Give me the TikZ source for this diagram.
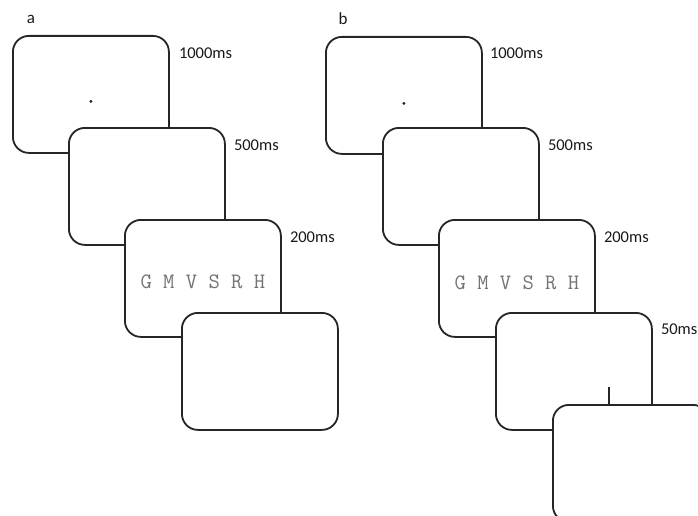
\documentclass[tikz,border=0pt]{standalone}
\usepackage{fontspec}
\setmainfont{Carlito}
\setmonofont{Latin Modern Mono}
\begin{document}
\begin{tikzpicture}[x=1pt,y=-1pt,
  screen/.style={draw=black!85,line width=1.8pt,rounded corners=16pt,fill=white,
    minimum width=156pt,minimum height=117pt,inner sep=0pt,anchor=north west},
  dur/.style={font=\fontsize{16.5}{18}\selectfont,anchor=west,inner sep=0pt,text=black!90},
  panel/.style={font=\fontsize{17}{19}\selectfont,inner sep=0pt,text=black!90},
  stim/.style={font=\ttfamily\fontsize{22}{24}\selectfont,text=black!55,inner sep=0pt},
  fix/.style={fill=black!85}]
\useasboundingbox (0,0) rectangle (698,516);
\begin{scope}
\clip (0,0) rectangle (698,516);
% panel a
\node[panel] (la) at (31,19) {a};
\node[screen] (a1) at (12,35) {};
\fill[fix] ([yshift=-7pt]a1.center) circle (1.6pt);
\node[dur] (ta1) at ([xshift=9pt,yshift=-18pt]a1.north east) {1000ms};
\node[screen] (a2) at (68,127) {};
\node[dur] (ta2) at ([xshift=8pt,yshift=-18pt]a2.north east) {500ms};
\node[screen] (a3) at (124,219) {};
\node[stim] (sa3) at ([yshift=-3pt]a3.center) {G M V S R H};
\node[dur] (ta3) at ([xshift=8pt,yshift=-18pt]a3.north east) {200ms};
\node[screen] (a4) at (181,312) {};
% panel b
\node[panel] (lb) at (343,19) {b};
\node[screen] (b1) at (325,36) {};
\fill[fix] ([yshift=-8pt]b1.center) circle (1.6pt);
\node[dur] (tb1) at ([xshift=7pt,yshift=-17pt]b1.north east) {1000ms};
\node[screen] (b2) at (382,127) {};
\node[dur] (tb2) at ([xshift=8pt,yshift=-18pt]b2.north east) {500ms};
\node[screen] (b3) at (438,219) {};
\node[stim] (sb3) at ([yshift=-4pt]b3.center) {G M V S R H};
\node[dur] (tb3) at ([xshift=8pt,yshift=-18pt]b3.north east) {200ms};
\node[screen] (b4) at (495,312) {};
\node[dur] (tb4) at ([xshift=8pt,yshift=-17pt]b4.north east) {50ms};
\coordinate (tk1) at ([xshift=35pt,yshift=-16pt]b4.center);
\coordinate (tk2) at ([xshift=35pt,yshift=-36pt]b4.center);
\draw[line width=1.6pt,black!85] (tk1) -- (tk2);
\node[screen] (b5) at (552,404) {};
\end{scope}
\end{tikzpicture}
\end{document}
